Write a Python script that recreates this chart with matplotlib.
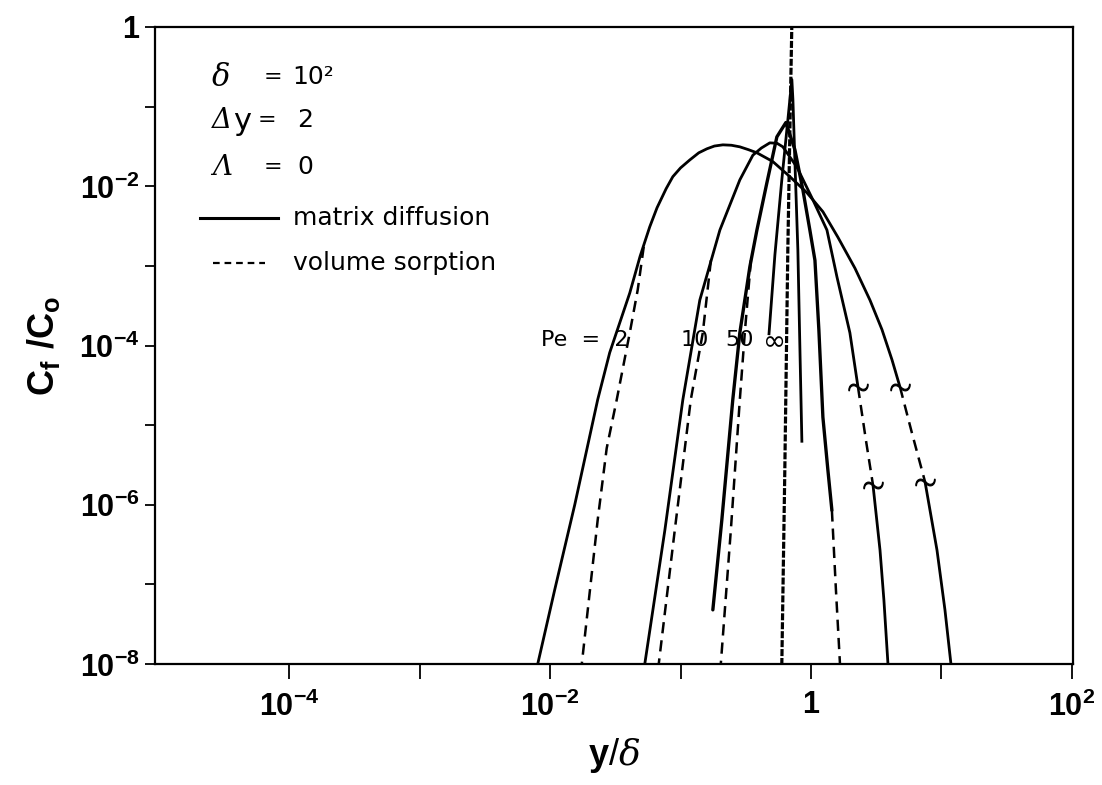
import numpy as np
import matplotlib
matplotlib.use("Agg")
import matplotlib.pyplot as plt
from matplotlib.ticker import FixedLocator, FixedFormatter, NullFormatter

plt.rcParams["font.family"] = ["DejaVu Sans"]
plt.rcParams["mathtext.fontset"] = "custom"
plt.rcParams["mathtext.rm"] = "Liberation Sans"
plt.rcParams["mathtext.bf"] = "Liberation Sans:bold"
plt.rcParams["mathtext.it"] = "DejaVu Serif:italic"

# 1. Data, stored as log10 exponents (x = y/delta, y = Cf/Co)

# Pe = 2, matrix diffusion (solid), split by the two break marks
pe2_md_x = [-2.095, -1.965, -1.811, -1.635, -1.543, -1.389, -1.31, -1.236, -1.18, -1.11,
            -1.059, -1.00, -0.929, -0.86, -0.798, -0.74, -0.675, -0.61, -0.545, -0.48,
            -0.414, -0.292, -0.161, -0.031, 0.092, 0.207, 0.338, 0.453, 0.545, 0.622, 0.683]
pe2_md_y = [-8.00, -7.07, -6.00, -4.68, -4.09, -3.34, -2.88, -2.51, -2.27, -2.03,
            -1.88, -1.77, -1.67, -1.58, -1.53, -1.495, -1.48, -1.485, -1.505, -1.54,
            -1.58, -1.69, -1.88, -2.08, -2.32, -2.64, -3.03, -3.43, -3.80, -4.18, -4.52]
pe2_mid_x = [0.683, 0.775, 0.875]
pe2_mid_y = [-4.52, -5.10, -5.71]
pe2_tail_x = [0.875, 0.967, 1.028, 1.074]
pe2_tail_y = [-5.71, -6.57, -7.32, -8.00]
# Pe = 2, volume sorption (dashed), where it leaves the solid curve
pe2_vs_x = [-1.282, -1.328, -1.389, -1.489, -1.566, -1.635, -1.757]
pe2_vs_y = [-2.76, -3.30, -3.84, -4.68, -5.29, -6.19, -8.00]

# Pe = 10
pe10_md_x = [-1.274, -1.120, -0.982, -0.852, -0.698, -0.545, -0.445, -0.38, -0.315, -0.26,
             -0.215, -0.107, 0.015, 0.123, 0.200, 0.299, 0.361]
pe10_md_y = [-8.00, -6.32, -4.68, -3.43, -2.55, -1.92, -1.61, -1.52, -1.455, -1.46,
             -1.505, -1.76, -2.17, -2.55, -3.14, -3.84, -4.52]
pe10_mid_x = [0.361, 0.422, 0.476]
pe10_mid_y = [-4.52, -5.19, -5.75]
pe10_tail_x = [0.476, 0.530, 0.560, 0.591]
pe10_tail_y = [-5.75, -6.57, -7.20, -8.00]
pe10_vs_x = [-0.767, -0.829, -0.921, -1.044, -1.167]
pe10_vs_y = [-2.93, -3.84, -4.68, -6.32, -8.00]

# Pe = 50
pe50_md_x = [-0.752, -0.683, -0.599, -0.545, -0.468, -0.414, -0.338, -0.261, -0.192, -0.123,
             -0.061, -0.008, 0.031, 0.061, 0.092, 0.130, 0.161]
pe50_md_y = [-7.32, -6.19, -4.68, -3.84, -3.01, -2.55, -1.96, -1.38, -1.20, -1.54,
             -2.05, -2.55, -2.93, -3.80, -4.90, -5.56, -6.07]
pe50_vs_x = [-0.460, -0.507, -0.545, -0.614, -0.691]
pe50_vs_y = [-2.93, -3.84, -4.68, -6.32, -8.00]
pe50_vs_tail_x = [0.161, 0.192, 0.223]
pe50_vs_tail_y = [-6.07, -7.07, -8.00]

# Pe = infinity
peinf_md_x = [-0.322, -0.276, -0.223, -0.177, -0.146, -0.138, -0.123, -0.100, -0.084, -0.069]
peinf_md_y = [-3.87, -2.86, -1.92, -1.17, -0.66, -0.91, -1.67, -2.80, -4.06, -5.22]
peinf_vs_x = [-0.146, -0.161, -0.177, -0.200, -0.223]
peinf_vs_y = [0.05, -1.29, -2.80, -5.56, -8.00]

# break marks on the Pe = 2 and Pe = 10 tails
break_x = [0.683, 0.875, 0.361, 0.476]
break_y = [-4.52, -5.71, -4.52, -5.75]

# curve labels
pe_labels = ["Pe  =  2", "10", "50", "\u221e"]
pe_label_x = [-1.40, -0.89, -0.545, -0.276]
pe_label_y = [-3.93, -3.93, -3.93, -3.96]


def p(x, y):
    return 10 ** np.array(x), 10 ** np.array(y)


# 2. Figure
fig = plt.figure(figsize=(11.02, 7.85), dpi=100)
ax = fig.add_axes([155 / 1102, 1 - 664 / 785, (1073 - 155) / 1102, 637 / 785])
ax.set_xscale("log")
ax.set_yscale("log")

solid = dict(color="black", lw=2.0, solid_capstyle="butt", solid_joinstyle="round")
dashed = dict(color="black", lw=1.8, dashes=(4.5, 2.8))
wavy = dict(color="black", lw=2.3, dashes=(2.2, 0.6))

ax.plot(*p(pe2_md_x, pe2_md_y), **solid)
ax.plot(*p(pe2_mid_x, pe2_mid_y), **dashed)
ax.plot(*p(pe2_tail_x, pe2_tail_y), **solid)
ax.plot(*p(pe2_vs_x, pe2_vs_y), **dashed)

ax.plot(*p(pe10_md_x, pe10_md_y), **solid)
ax.plot(*p(pe10_mid_x, pe10_mid_y), **dashed)
ax.plot(*p(pe10_tail_x, pe10_tail_y), **solid)
ax.plot(*p(pe10_vs_x, pe10_vs_y), **dashed)

ax.plot(*p(pe50_md_x, pe50_md_y), color="black", lw=2.4, solid_capstyle="round",
        solid_joinstyle="round")
ax.plot(*p(pe50_vs_x, pe50_vs_y), **dashed)
ax.plot(*p(pe50_vs_tail_x, pe50_vs_tail_y), **dashed)

ax.plot(*p(peinf_md_x, peinf_md_y), **solid)
ax.plot(*p(peinf_vs_x, peinf_vs_y), **wavy)

ax.plot(*p(break_x, break_y), ls="none", marker=r"$\sim$", markersize=14,
        color="black", markeredgewidth=0.8)

for lab, lx, ly in zip(pe_labels, pe_label_x, pe_label_y):
    ha = "right" if lab.startswith("Pe") else "center"
    size = 20 if lab == "\u221e" else 16
    ax.text(10 ** lx, 10 ** ly, lab, ha=ha, va="center", fontsize=size)

# 3. Axes, ticks
ax.set_xlim(10 ** -5.03, 10 ** 2.01)
ax.set_ylim(1e-8, 1)

ax.xaxis.set_major_locator(FixedLocator([1e-4, 1e-2, 1, 1e2]))
ax.xaxis.set_major_formatter(FixedFormatter([r"$\mathbf{10^{-4}}$", r"$\mathbf{10^{-2}}$",
                                             r"$\mathbf{1}$", r"$\mathbf{10^{2}}$"]))
ax.xaxis.set_minor_locator(FixedLocator([1e-3, 1e-1, 1e1]))
ax.xaxis.set_minor_formatter(NullFormatter())

ax.yaxis.set_major_locator(FixedLocator([1e-8, 1e-6, 1e-4, 1e-2, 1]))
ax.yaxis.set_major_formatter(FixedFormatter([r"$\mathbf{10^{-8}}$", r"$\mathbf{10^{-6}}$",
                                             r"$\mathbf{10^{-4}}$", r"$\mathbf{10^{-2}}$",
                                             r"$\mathbf{1}$"]))
ax.yaxis.set_minor_locator(FixedLocator([1e-7, 1e-5, 1e-3, 1e-1]))
ax.yaxis.set_minor_formatter(NullFormatter())

ax.tick_params(axis="x", which="both", direction="out", length=11, width=1.3,
               labelsize=22, pad=8)
ax.tick_params(axis="y", which="both", direction="out", length=7, width=1.3,
               labelsize=22, pad=4)
for s in ax.spines.values():
    s.set_linewidth(1.6)

ax.set_xlabel(r"$\mathbf{y}\mathrm{/}\delta$", fontsize=26, labelpad=10)
ax.set_ylabel(r"$\mathbf{C_f\ /C_o}$", fontsize=26, labelpad=12)

# 4. Parameter block and legend
tr = ax.transAxes
ax.text(0.062, 0.921, "\u03b4", transform=tr, fontsize=22, family="DejaVu Serif",
        style="italic", va="center")
ax.text(0.128, 0.921, "=", transform=tr, fontsize=16, ha="center", va="center")
ax.text(0.150, 0.921, "10\u00b2", transform=tr, fontsize=18, va="center")

ax.text(0.062, 0.854, "\u0394", transform=tr, fontsize=20, family="DejaVu Serif",
        style="italic", va="center")
ax.text(0.085, 0.851, "y", transform=tr, fontsize=22, va="center")
ax.text(0.122, 0.854, "=", transform=tr, fontsize=16, ha="center", va="center")
ax.text(0.155, 0.854, "2", transform=tr, fontsize=18, va="center")

ax.text(0.062, 0.780, "\u039b", transform=tr, fontsize=20, family="DejaVu Serif",
        style="italic", va="center")
ax.text(0.128, 0.780, "=", transform=tr, fontsize=16, ha="center", va="center")
ax.text(0.155, 0.780, "0", transform=tr, fontsize=18, va="center")

ax.plot([0.049, 0.134], [0.700, 0.700], transform=tr, color="black", lw=2.2)
ax.text(0.150, 0.700, "matrix diffusion", transform=tr, fontsize=18, va="center")
ax.plot([0.063, 0.120], [0.630, 0.630], transform=tr, color="black", lw=1.6,
        dashes=(3, 2.2))
ax.text(0.150, 0.630, "volume sorption", transform=tr, fontsize=18, va="center")

fig.savefig("out.png", dpi=100)
